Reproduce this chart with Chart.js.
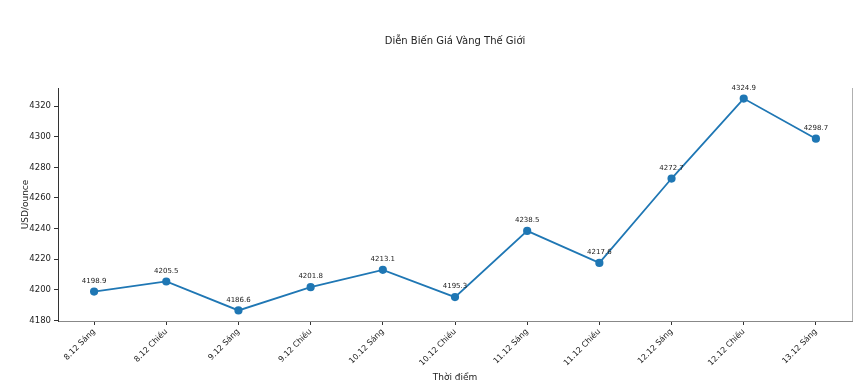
<!DOCTYPE html>
<html>
<head>
<meta charset="utf-8">
<script src="https://cdn.jsdelivr.net/npm/chart.js@4"></script>
<style>
  html, body { margin: 0; padding: 0; background: #fff; }
  #wrap { width: 864px; height: 387px; }
</style>
</head>
<body>
<div id="wrap"><canvas id="chart-gold"></canvas></div>
<script>
const labels = ['8.12 Sáng', '8.12 Chiều', '9.12 Sáng', '9.12 Chiều', '10.12 Sáng', '10.12 Chiều',
  '11.12 Sáng', '11.12 Chiều', '12.12 Sáng', '12.12 Chiều', '13.12 Sáng'];
const prices = [4198.9, 4205.5, 4186.6, 4201.8, 4213.1, 4195.3, 4238.5, 4217.6, 4272.7, 4324.9, 4298.7];
const yTicks = [4180, 4200, 4220, 4240, 4260, 4280, 4300, 4320];
const chartTitle = 'Diễn Biến Giá Vàng Thế Giới';

const FONT = "'DejaVu Sans', sans-serif";

// title centred over the axes, value labels above points, light right spine
const extras = {
  id: 'extras',
  afterDatasetsDraw(chart) {
    const ctx = chart.ctx;
    const a = chart.chartArea;
    const meta = chart.getDatasetMeta(0);
    ctx.save();
    ctx.fillStyle = '#222';
    ctx.textAlign = 'center';
    ctx.textBaseline = 'middle';
    ctx.font = "10px " + FONT;
    ctx.fillText(chartTitle, (a.left + a.right) / 2, 41);

    ctx.font = "7px " + FONT;
    ctx.textBaseline = 'bottom';
    meta.data.forEach((pt, i) => {
      ctx.fillText(prices[i].toFixed(1), pt.x, pt.y - 7);
    });

    ctx.strokeStyle = '#b0b0b0';
    ctx.lineWidth = 1;
    ctx.beginPath();
    ctx.moveTo(a.right + 0.5, a.top);
    ctx.lineTo(a.right + 0.5, a.bottom);
    ctx.stroke();
    ctx.restore();
  }
};

new Chart(document.getElementById('chart-gold'), {
  type: 'line',
  data: {
    labels: labels,
    datasets: [{
      data: prices,
      borderColor: '#1f77b4',
      backgroundColor: '#1f77b4',
      borderWidth: 1.8,
      pointRadius: 3.2,
      pointHoverRadius: 3.2,
      tension: 0,
    }],
  },
  options: {
    responsive: true,
    maintainAspectRatio: false,
    animation: false,
    layout: { padding: { left: 0, right: 12, top: 88, bottom: 0 } },
    plugins: {
      legend: { display: false },
      tooltip: { enabled: false },
      title: { display: false },
    },
    scales: {
      x: {
        offset: true,
        grid: { display: true, drawOnChartArea: false, tickLength: 4, color: '#333' },
        border: { color: '#888', width: 1 },
        ticks: {
          color: '#222', font: { family: FONT, size: 8 },
          maxRotation: 45, minRotation: 45, padding: 2, autoSkip: false,
        },
        title: {
          display: true, text: 'Thời điểm', color: '#222',
          font: { family: FONT, size: 9 }, padding: { top: 0, bottom: 4 },
        },
        afterFit(scale) { scale.height = 66; },
      },
      y: {
        min: 4179.7,
        max: 4331.8,
        afterBuildTicks(scale) { scale.ticks = yTicks.map(v => ({ value: v })); },
        grid: { display: true, drawOnChartArea: false, tickLength: 4, color: '#333' },
        border: { color: '#333', width: 1 },
        ticks: {
          color: '#222', font: { family: FONT, size: 8.5 }, padding: 3,
          callback: v => String(v),
        },
        title: {
          display: true, text: 'USD/ounce', color: '#222',
          font: { family: FONT, size: 9 }, padding: { top: 20, bottom: 0 },
        },
        afterFit(scale) { scale.width = 58; },
      },
    },
  },
  plugins: [extras],
});
</script>
</body>
</html>
